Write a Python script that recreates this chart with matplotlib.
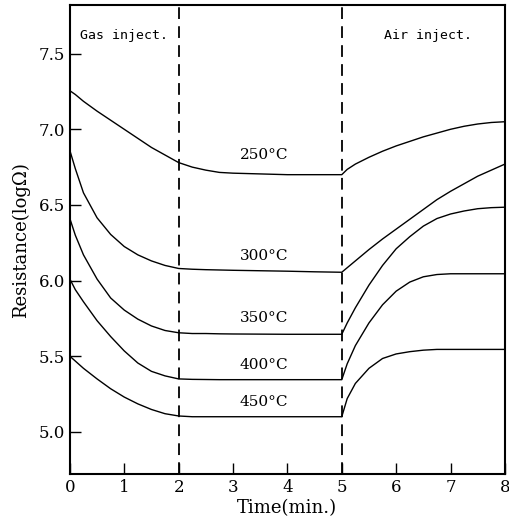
import matplotlib
matplotlib.use("Agg")
import matplotlib.pyplot as plt

# time axis (min.) and resistance readings (log ohm) for each temperature
time = [0, 0.1, 0.25, 0.5, 0.75, 1, 1.25, 1.5, 1.75, 2,
        2.25, 2.5, 2.75, 3, 3.5, 4, 4.5, 5,
        5.1, 5.25, 5.5, 5.75, 6, 6.25, 6.5, 6.75, 7, 7.25, 7.5, 7.75, 8]

r250 = [7.255, 7.23, 7.185, 7.12, 7.06, 7.0, 6.94, 6.88, 6.83, 6.78,
        6.75, 6.73, 6.715, 6.71, 6.705, 6.70, 6.70, 6.70,
        6.735, 6.77, 6.815, 6.855, 6.89, 6.92, 6.95, 6.975, 7.0, 7.02, 7.035, 7.045, 7.05]
r300 = [6.86, 6.74, 6.58, 6.415, 6.305, 6.225, 6.17, 6.13, 6.10, 6.08,
        6.075, 6.072, 6.07, 6.068, 6.065, 6.062, 6.058, 6.055,
        6.085, 6.13, 6.205, 6.275, 6.34, 6.405, 6.47, 6.535, 6.59, 6.64, 6.69, 6.73, 6.77]
r350 = [6.41, 6.30, 6.17, 6.01, 5.885, 5.805, 5.745, 5.70, 5.67, 5.655,
        5.65, 5.65, 5.648, 5.647, 5.646, 5.645, 5.645, 5.645,
        5.72, 5.82, 5.97, 6.10, 6.21, 6.29, 6.36, 6.41, 6.44, 6.46, 6.475, 6.482, 6.485]
r400 = [6.01, 5.94, 5.86, 5.735, 5.63, 5.535, 5.455, 5.40, 5.37, 5.35,
        5.347, 5.346, 5.345, 5.345, 5.345, 5.345, 5.345, 5.345,
        5.45, 5.57, 5.72, 5.84, 5.93, 5.99, 6.025, 6.04, 6.045, 6.045, 6.045, 6.045, 6.045]
r450 = [5.50, 5.468, 5.42, 5.35, 5.285, 5.23, 5.185, 5.148, 5.12, 5.105,
        5.10, 5.10, 5.10, 5.10, 5.10, 5.10, 5.10, 5.10,
        5.22, 5.32, 5.42, 5.485, 5.515, 5.53, 5.54, 5.545, 5.545, 5.545, 5.545, 5.545, 5.545]

series = [r250, r300, r350, r400, r450]
labels = ["250°C", "300°C", "350°C", "400°C", "450°C"]
label_y = [6.83, 6.16, 5.75, 5.44, 5.20]

switch_times = [2, 5]
xticks = [0, 1, 2, 3, 4, 5, 6, 7, 8]
yticks = [5.0, 5.5, 6.0, 6.5, 7.0, 7.5]

fig = plt.figure(figsize=(5.1, 5.24), dpi=100)
ax = fig.add_axes([0.137, 0.095, 0.853, 0.895])

for r in series:
    ax.plot(time, r, color="black", lw=1.0, solid_joinstyle="round")

for t in switch_times:
    ax.axvline(t, color="black", lw=1.3, dashes=(6.5, 4))

for lab, y in zip(labels, label_y):
    ax.text(3.57, y, lab, ha="center", va="center", fontsize=11, family="DejaVu Serif")

ax.text(0.18, 7.62, "Gas inject.", fontsize=9.5, family="DejaVu Sans Mono", va="center")
ax.text(5.78, 7.62, "Air inject.", fontsize=9.5, family="DejaVu Sans Mono", va="center")

ax.set_xlim(0, 8)
ax.set_ylim(4.72, 7.82)
ax.set_xticks(xticks)
ax.set_yticks(yticks)
ax.set_yticklabels(["%.1f" % v for v in yticks])
ax.tick_params(direction="in", length=8, width=1, labelsize=12)
for lbl in ax.get_xticklabels() + ax.get_yticklabels():
    lbl.set_family("DejaVu Serif")
for s in ax.spines.values():
    s.set_linewidth(1.5)

ax.set_xlabel("Time(min.)", fontsize=13, family="DejaVu Serif", labelpad=2)
ax.set_ylabel("Resistance(log\u03a9)", fontsize=13, family="DejaVu Serif", labelpad=6)

fig.savefig("out.png", dpi=100)
